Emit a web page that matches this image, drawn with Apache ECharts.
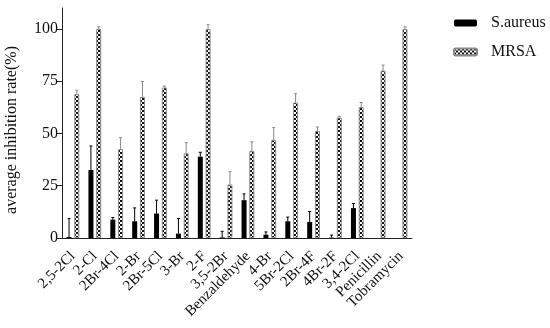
<!DOCTYPE html>
<html>
<head>
<meta charset="utf-8">
<script src="https://cdn.jsdelivr.net/npm/echarts@6/dist/echarts.min.js"></script>
<style>
html,body{margin:0;padding:0;background:#fff;}
#chart{width:550px;height:328px;}
</style>
</head>
<body>
<div id="chart"></div>
<script>
const categories = ['2,5-2Cl','2-Cl','2Br-4Cl','2-Br','2Br-5Cl','3-Br','2-F','3,5-2Br','Benzaldehyde','4-Br','5Br-2Cl','2Br-4F','4Br-2F','3,4-2Cl','Penicillin','Tobramycin'];
const saureus = [0.5, 32.5, 8.8, 8.0, 11.7, 2.1, 38.9, 0.3, 18.1, 1.6, 8.0, 7.7, 0.2, 14.3, 0, 0];
const saureusErr = [8.8, 11.5, 1.0, 6.4, 6.4, 7.2, 2.1, 2.9, 3.0, 1.3, 2.0, 5.0, 1.2, 2.2, 0, 0];
const mrsa = [68.8, 100, 42.5, 67.5, 72.0, 40.5, 100, 25.6, 41.7, 47.0, 64.8, 51.2, 57.6, 62.6, 80.1, 100];
const mrsaErr = [1.9, 1.0, 5.5, 7.4, 0.7, 5.1, 2.0, 6.1, 4.3, 5.8, 4.2, 1.9, 0.6, 2.2, 2.6, 1.0];
const yTicks = [0, 25, 50, 75, 100];
const yMax = 110;

const FONT = 'Liberation Serif';
const BAR_W = 5;
const HALF_OFF = 3.9;

function makePattern() {
  const c = document.createElement('canvas');
  c.width = 4; c.height = 4;
  const g = c.getContext('2d');
  g.fillStyle = '#ffffff'; g.fillRect(0, 0, 4, 4);
  g.fillStyle = '#111111';
  g.fillRect(0, 0, 2, 2); g.fillRect(2, 2, 2, 2);
  return c;
}
const pattern = { image: makePattern(), repeat: 'repeat' };

function errSeries(name, vals, errs, offset, color) {
  return {
    type: 'custom',
    name: name,
    z: 5,
    encode: { x: 0, y: [1, 2] },
    data: vals.map((v, i) => [i, v, v + errs[i]]),
    renderItem: function (params, api) {
      const idx = api.value(0);
      const base = api.coord([idx, api.value(1)]);
      const top = api.coord([idx, api.value(2)]);
      const x = base[0] + offset;
      if (api.value(2) - api.value(1) <= 0) return null;
      return {
        type: 'group',
        children: [
          { type: 'line', shape: { x1: x, y1: base[1], x2: x, y2: top[1] }, style: { stroke: color, lineWidth: 1 } },
          { type: 'line', shape: { x1: x - 1.5, y1: top[1], x2: x + 1.5, y2: top[1] }, style: { stroke: color, lineWidth: 1 } }
        ]
      };
    }
  };
}

const chart = echarts.init(document.getElementById('chart'), null, { renderer: 'canvas' });
chart.setOption({
  animation: false,
  backgroundColor: '#fff',
  textStyle: { fontFamily: FONT },
  grid: { left: 62, top: 8, right: 138, bottom: 90, containLabel: false },
  legend: {
    data: ['S.aureus', 'MRSA'],
    orient: 'vertical',
    left: 453,
    top: 15,
    padding: 0,
    itemWidth: 23,
    itemHeight: 7,
    itemGap: 13,
    textStyle: { fontFamily: FONT, fontSize: 16, color: '#111', padding: [0, 0, 0, 9] }
  },
  xAxis: {
    type: 'category',
    data: categories,
    axisLine: { lineStyle: { color: '#222', width: 1 } },
    axisTick: { alignWithLabel: true, length: 9, lineStyle: { color: '#222' } },
    axisLabel: { rotate: 45, fontFamily: FONT, fontSize: 15, color: '#111', margin: 16, interval: 0 }
  },
  yAxis: {
    type: 'value',
    min: 0,
    max: yMax,
    interval: 25,
    splitLine: { show: false },
    axisLine: { show: true, lineStyle: { color: '#222', width: 1 } },
    axisTick: { show: true, length: 6, customValues: yTicks, lineStyle: { color: '#222' } },
    axisLabel: { customValues: yTicks, fontFamily: FONT, fontSize: 16, color: '#111', margin: 4 }
  },
  graphic: [{
    type: 'text',
    x: 12,
    y: 130,
    rotation: Math.PI / 2,
    style: { text: 'average inhibition rate(%)', fontFamily: FONT, fontSize: 16, fill: '#111', align: 'center', verticalAlign: 'middle' }
  }],
  series: [
    {
      name: 'S.aureus', type: 'bar', data: saureus, barWidth: BAR_W, barGap: '55%',
      itemStyle: { color: '#000' }
    },
    {
      name: 'MRSA', type: 'bar', data: mrsa, barWidth: BAR_W, barGap: '55%',
      itemStyle: { color: pattern, borderColor: '#8a8a8a', borderWidth: 1 }
    },
    errSeries('errS', saureus, saureusErr, -HALF_OFF, '#000'),
    errSeries('errM', mrsa, mrsaErr, HALF_OFF, '#8a8a8a')
  ]
});
</script>
</body>
</html>
